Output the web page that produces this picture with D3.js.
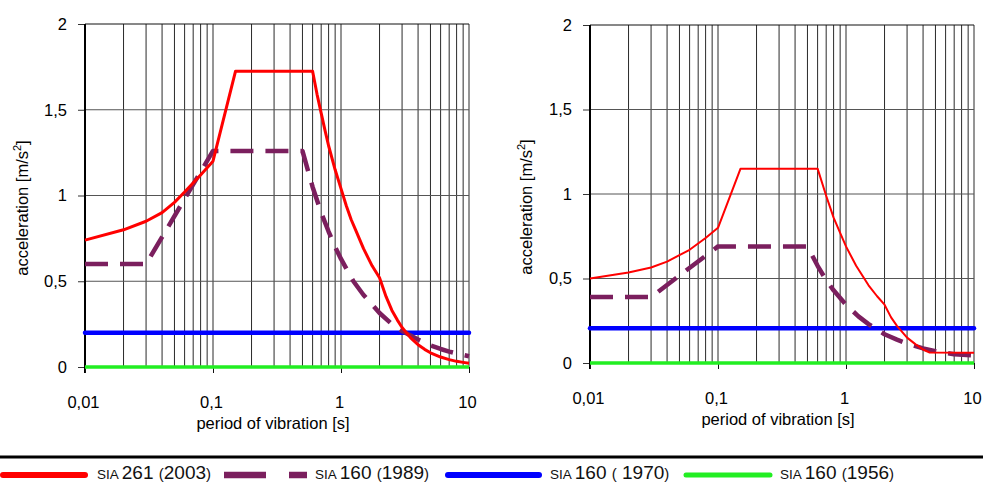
<!DOCTYPE html>
<html>
<head>
<meta charset="utf-8">
<script src="https://cdn.jsdelivr.net/npm/d3@7"></script>
<style>
  html, body { margin: 0; padding: 0; background: #fff; }
  svg { display: block; font-family: "Liberation Sans", Arial, sans-serif; }
</style>
</head>
<body>
<svg id="chart" width="983" height="483"></svg>
<script>
// periods [s] / accelerations [m/s2]
const leftSia261 = [[0.01,0.74],[0.02,0.80],[0.03,0.85],[0.04,0.90],[0.05,0.96],[0.06,1.02],[0.08,1.12],[0.1,1.2],[0.15,1.725],[0.6,1.725],[0.65,1.59],[0.7,1.48],[0.75,1.38],[0.8,1.29],[0.9,1.15],[1,1.04],[1.1,0.94],[1.2,0.86],[1.3,0.80],[1.5,0.69],[1.75,0.59],[2,0.52],[2.25,0.41],[2.5,0.33],[2.75,0.275],[3,0.23],[3.5,0.17],[4,0.13],[4.5,0.103],[5,0.083],[6,0.058],[7,0.043],[8,0.033],[9,0.027],[10,0.022]];
const leftSia160_89 = [[0.01,0.6],[0.03,0.6],[0.1,1.26],[0.5,1.26],[0.55,1.15],[0.6,1.05],[0.7,0.9],[0.8,0.79],[0.9,0.70],[1,0.63],[1.25,0.50],[1.5,0.42],[2,0.315],[2.5,0.25],[3,0.21],[4,0.16],[5,0.126],[6,0.105],[7,0.09],[8,0.079],[10,0.063]];
const leftSia160_70 = [[0.01,0.2],[10,0.2]];
const leftSia160_56 = [[0.01,0],[10,0]];

const rightSia261 = [[0.01,0.5],[0.02,0.535],[0.03,0.565],[0.04,0.60],[0.06,0.67],[0.08,0.74],[0.1,0.8],[0.15,1.15],[0.6,1.15],[0.7,0.99],[0.8,0.86],[0.9,0.77],[1,0.69],[1.2,0.575],[1.5,0.46],[1.75,0.395],[2,0.345],[2.25,0.27],[2.5,0.22],[3,0.15],[3.5,0.11],[4,0.08],[4.5,0.062],[10,0.06]];
const rightSia160_89 = [[0.01,0.39],[0.03,0.39],[0.1,0.69],[0.5,0.69],[0.6,0.575],[0.7,0.49],[0.8,0.43],[1,0.345],[1.25,0.276],[1.5,0.23],[2,0.17],[2.5,0.138],[3,0.115],[4,0.086],[5,0.07],[7,0.052],[10,0.045]];
const rightSia160_70 = [[0.01,0.205],[10,0.205]];
const rightSia160_56 = [[0.01,0],[10,0]];

const yTicks = [0, 0.5, 1, 1.5, 2];
const xLabelTicks = [0.01, 0.1, 1, 10];
const legendNumbers = ['261', '160', '160', '160'];
const legendYears = ['2003', '1989', ' 1970', '1956'];

const svg = d3.select('#chart');
const fmt = d => String(d).replace('.', ',');

/**
 * one response-spectrum panel
 */
function drawPanel(p, series) {
    const x = d3.scaleLog().domain([0.01, 10]).range([p.left, p.right]);
    const y = d3.scaleLinear().domain([0, 2]).range([p.bottom, p.top]);
    const g = svg.append('g');

    // vertical grid at every log tick
    g.append('g').selectAll('line')
        .data(x.ticks())
        .join('line')
        .attr('x1', d => x(d)).attr('x2', d => x(d))
        .attr('y1', y(2)).attr('y2', y(0))
        .attr('stroke', '#2a2a2a').attr('stroke-width', 1);

    // horizontal grid
    g.append('g').selectAll('line')
        .data(yTicks.filter(d => d > 0))
        .join('line')
        .attr('x1', p.left).attr('x2', p.right)
        .attr('y1', d => y(d)).attr('y2', d => y(d))
        .attr('stroke', d => d === 2 ? '#111' : '#555').attr('stroke-width', 1);

    // y axis
    const ya = g.append('g')
        .attr('transform', `translate(${p.left},0)`)
        .call(d3.axisLeft(y).tickValues(yTicks).tickFormat(fmt).tickSize(7).tickSizeOuter(0).tickPadding(11));
    ya.select('.domain').remove();
    ya.selectAll('.tick line').attr('stroke', '#333');
    ya.selectAll('text').attr('font-size', 16.5).attr('fill', '#000').style('font-family', '"Liberation Sans", Arial, sans-serif');
    g.append('line')
        .attr('x1', p.left).attr('x2', p.left)
        .attr('y1', y(2)).attr('y2', y(0) + 6)
        .attr('stroke', '#000').attr('stroke-width', 2);

    // x axis
    const xa = g.append('g')
        .attr('transform', `translate(0,${p.bottom})`)
        .call(d3.axisBottom(x).tickValues(xLabelTicks).tickFormat(fmt).tickSize(6).tickSizeOuter(0).tickPadding(23));
    xa.select('.domain').remove();
    xa.selectAll('.tick line').attr('stroke', '#111');
    xa.selectAll('text').attr('font-size', 16.5).attr('fill', '#000').attr('dx', -2)
        .style('font-family', '"Liberation Sans", Arial, sans-serif');

    // axis titles
    g.append('text')
        .attr('x', (p.left + p.right) / 2 - 4).attr('y', p.bottom + 62)
        .attr('text-anchor', 'middle').attr('font-size', 16.5)
        .text('period of vibration [s]');
    const yt = g.append('text')
        .attr('transform', `translate(${p.titleX},${p.titleY}) rotate(-90)`)
        .attr('text-anchor', 'middle').attr('font-size', 16.5);
    yt.append('tspan').text('acceleration [m/s');
    yt.append('tspan').attr('font-size', 11).attr('dy', -7).text('2');
    yt.append('tspan').attr('dy', 7).text(']');

    const line = d3.line().x(d => x(d[0])).y(d => y(d[1]));

    series.forEach(s => {
        g.append('path')
            .datum(s.data)
            .attr('d', line)
            .attr('fill', 'none')
            .attr('stroke', s.color)
            .attr('stroke-width', s.width)
            .attr('stroke-linejoin', 'round')
            .attr('stroke-linecap', s.cap || 'butt')
            .attr('stroke-dasharray', s.dash || null);
    });
}

const RED = '#ff0000', PURPLE = '#7b1f5e', BLUE = '#0000ff', GREEN = '#22ee22';

drawPanel({ left: 85, right: 469, top: 24, bottom: 367, titleX: 28, titleY: 208 }, [
    { data: leftSia160_56, color: GREEN, width: 3.5 },
    { data: leftSia160_70, color: BLUE, width: 4.5, cap: 'round' },
    { data: leftSia160_89, color: PURPLE, width: 4.5, dash: '23,12' },
    { data: leftSia261, color: RED, width: 3 }
]);

drawPanel({ left: 590, right: 974, top: 25, bottom: 363, titleX: 532, titleY: 207 }, [
    { data: rightSia160_56, color: GREEN, width: 3.5 },
    { data: rightSia160_70, color: BLUE, width: 4.5, cap: 'round' },
    { data: rightSia160_89, color: PURPLE, width: 4.5, dash: '23,12' },
    { data: rightSia261, color: RED, width: 2 }
]);

// legend
svg.append('line')
    .attr('x1', 0).attr('x2', 983).attr('y1', 457).attr('y2', 457)
    .attr('stroke', '#000').attr('stroke-width', 3);

const legendItems = [
    { color: RED, width: 6, x1: 3, x2: 85, cap: 'round', tx: 97 },
    { color: PURPLE, width: 6.5, x1: 224, x2: 307, dash: '42,23', tx: 315 },
    { color: BLUE, width: 6, x1: 448, x2: 539, cap: 'round', tx: 550 },
    { color: GREEN, width: 5, x1: 686, x2: 770, cap: 'round', tx: 780 }
];

legendItems.forEach((it, i) => {
    svg.append('line')
        .attr('x1', it.x1).attr('x2', it.x2).attr('y1', 475).attr('y2', 475)
        .attr('stroke', it.color).attr('stroke-width', it.width)
        .attr('stroke-linecap', it.cap || 'butt')
        .attr('stroke-dasharray', it.dash || null);
    const t = svg.append('text').attr('x', it.tx).attr('y', 479).attr('fill', '#111')
        .attr('xml:space', 'preserve').style('white-space', 'pre');
    t.append('tspan').attr('font-size', 13.5).text('SIA ');
    t.append('tspan').attr('font-size', 19).text(legendNumbers[i] + ' ');
    t.append('tspan').attr('font-size', 15).text('(');
    t.append('tspan').attr('font-size', 19).text(legendYears[i]);
    t.append('tspan').attr('font-size', 15).text(')');
});
</script>
</body>
</html>
